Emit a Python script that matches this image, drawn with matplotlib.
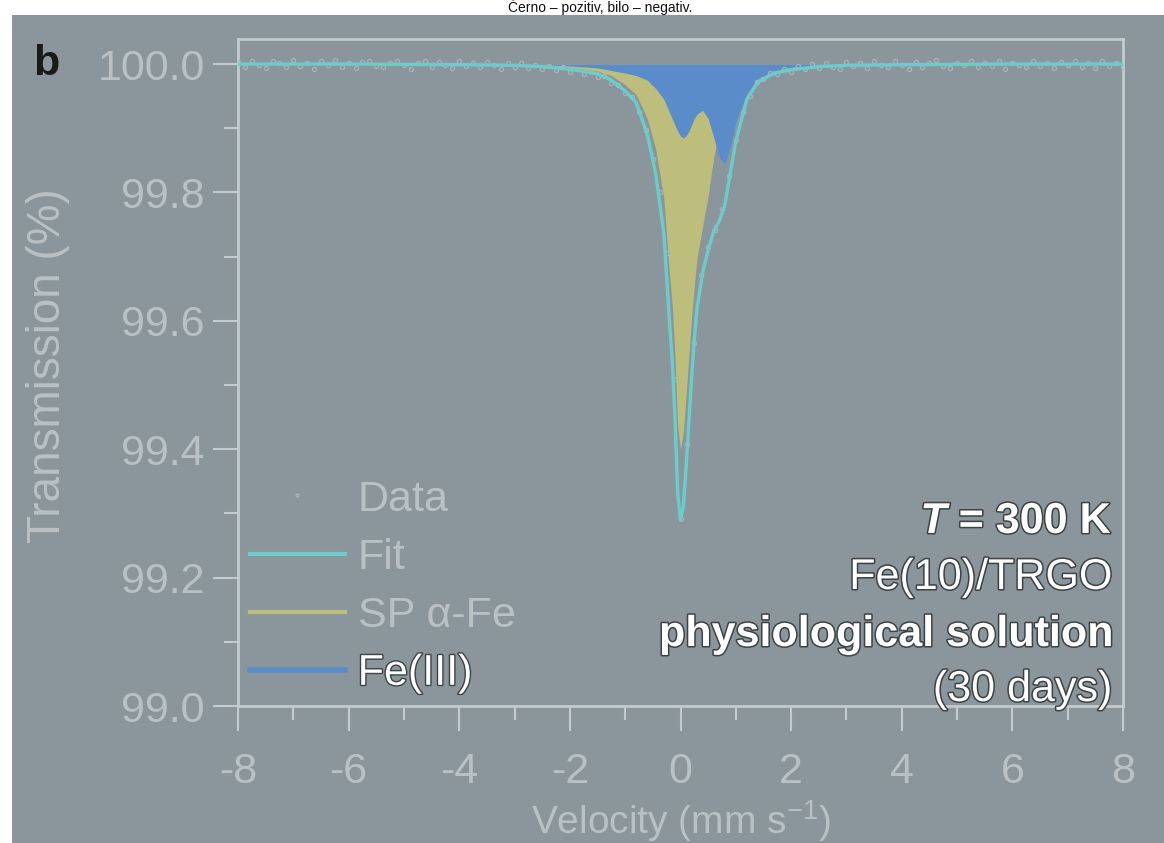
import numpy as np
import matplotlib
matplotlib.use("Agg")
import matplotlib.pyplot as plt
from matplotlib.patches import Rectangle
from matplotlib.lines import Line2D
import matplotlib.patheffects as pe

plt.rcParams['font.family'] = ['Liberation Sans', 'DejaVu Sans']
plt.rcParams['mathtext.fontset'] = 'custom'
plt.rcParams['mathtext.rm'] = 'Liberation Sans'
plt.rcParams['mathtext.it'] = 'Liberation Sans:italic:bold'
plt.rcParams['mathtext.bf'] = 'Liberation Sans:bold'

# ---- measured spectrum: 129 channels from -8 to +8 mm/s ----
velocity = np.linspace(-8.0, 8.0, 129)
transmission = [
    100.003, 99.996, 100.005, 99.998, 99.994, 100.004, 100.001, 99.995,
    100.006, 99.997, 100.002, 99.993, 100.004, 99.999, 100.006, 99.996,
    100.001, 99.994, 100.003, 100.005, 99.997, 99.995, 100.002, 100.004,
    99.998, 99.993, 100.001, 100.005, 99.996, 100.003, 99.999, 99.994,
    100.004, 99.997, 100.002, 99.995, 100.003, 99.998, 99.993, 100.002,
    99.996, 100.001, 99.994, 99.999, 99.992, 99.997, 99.990, 99.995,
    99.988, 99.993, 99.984, 99.988, 99.980, 99.981, 99.970, 99.968,
    99.955, 99.948, 99.925, 99.897, 99.852, 99.800, 99.706, 99.510,
    99.292,
    99.408, 99.565, 99.672, 99.715, 99.742, 99.774, 99.826, 99.881,
    99.925, 99.950, 99.972, 99.976, 99.986, 99.984, 99.993, 99.988,
    99.997, 99.993, 100.000, 99.994, 100.002, 99.996, 99.993, 100.003,
    99.997, 100.001, 99.994, 100.004, 99.998, 99.995, 100.005, 99.999,
    99.993, 100.003, 99.996, 100.001, 100.006, 99.997, 99.994, 100.002,
    99.998, 100.005, 99.995, 100.001, 99.997, 100.004, 99.993, 100.002,
    99.999, 99.995, 100.005, 99.997, 100.002, 99.994, 100.003, 99.998,
    100.005, 99.996, 100.001, 99.994, 100.004, 99.997, 100.002, 99.996,
]
assert len(transmission) == len(velocity)

# ---- fitted model and its two sub-spectra ----
v_model = [-8, -6, -4, -3, -2.5, -2, -1.5, -1.25, -1, -0.8, -0.6, -0.45,
           -0.3, -0.2, -0.15, -0.1, -0.05, 0, 0.05, 0.1, 0.15, 0.2, 0.25,
           0.3, 0.4, 0.5, 0.6, 0.7, 0.8, 0.9, 1.0, 1.2, 1.4, 1.7, 2, 2.5,
           3, 4, 6, 8]
fit_total = [100.0, 100.0, 99.999, 99.998, 99.996, 99.992, 99.985, 99.975,
             99.958, 99.94, 99.89, 99.83, 99.735, 99.60, 99.54, 99.45, 99.33,
             99.29, 99.31, 99.37, 99.44, 99.51, 99.57, 99.62, 99.675, 99.71,
             99.74, 99.755, 99.78, 99.83, 99.88, 99.945, 99.972, 99.986,
             99.991, 99.996, 99.998, 99.999, 100.0, 100.0]
sp_alpha_fe = [100.0, 100.0, 100.0, 99.999, 99.998, 99.995, 99.989, 99.982,
               99.968, 99.952, 99.915, 99.868, 99.79, 99.675, 99.625, 99.545,
               99.435, 99.40, 99.425, 99.482, 99.545, 99.605, 99.655, 99.698,
               99.747, 99.795, 99.854, 99.90, 99.935, 99.96, 99.97, 99.98,
               99.986, 99.991, 99.994, 99.997, 99.998, 99.999, 100.0, 100.0]
fe_iii = [100.0, 100.0, 100.0, 100.0, 99.999, 99.997, 99.994, 99.99,
          99.986, 99.982, 99.975, 99.962, 99.945, 99.925, 99.915, 99.905,
          99.895, 99.888, 99.885, 99.888, 99.895, 99.905, 99.915, 99.922,
          99.928, 99.915, 99.886, 99.855, 99.845, 99.87, 99.91, 99.955,
          99.978, 99.99, 99.995, 99.998, 99.999, 100.0, 100.0, 100.0]

x_ticks = [-8, -6, -4, -2, 0, 2, 4, 6, 8]
y_ticks = [99.0, 99.2, 99.4, 99.6, 99.8, 100.0]

BG = '#8a969b'
LIGHT = '#b9c1c5'
SPINE = '#c3cbcf'
C_FIT = '#6ccccc'
C_SP = '#bdbd7c'
C_FE = '#5a8cca'
C_DATA = '#aab2bf'

W, H = 1164, 843
fig = plt.figure(figsize=(W / 100, H / 100), dpi=100)
fig.patch.set_facecolor('white')
fig.add_artist(Rectangle((12 / W, 0), 1 - 12 / W, 1 - 15 / H,
                         transform=fig.transFigure, facecolor=BG,
                         edgecolor='none', zorder=0))

fig.text(600 / W, 1 - 12 / H, 'Černo – pozitiv, bilo – negativ.',
         ha='center', va='baseline', fontsize=10, color='#111111')
fig.text(33 / W, 1 - 64 / H, 'b', ha='left', va='center', fontsize=31,
         fontweight='bold', color='#1a1a1a')

ax = fig.add_axes([238 / W, 1 - 706 / H, (1123 - 238) / W, (706 - 39) / H])
ax.patch.set_alpha(0)

ax.fill_between(v_model, 100.0, sp_alpha_fe, color=C_SP, lw=0, zorder=1)
ax.fill_between(v_model, 100.0, fe_iii, color=C_FE, lw=0, zorder=2)
ax.plot(velocity, transmission, ls='none', marker='o', ms=3.0,
        mfc='none', mec=C_DATA, mew=0.9, zorder=3)
ax.plot(v_model, fit_total, color=C_FIT, lw=2.4, zorder=4)

ax.set_xlim(-8, 8)
ax.set_ylim(99.0, 100.039)
ax.set_xticks(x_ticks)
ax.set_xticks(np.arange(-7, 8, 2), minor=True)
ax.set_yticks(y_ticks)
ax.set_yticks(np.arange(99.1, 100.0, 0.2), minor=True)
ax.set_xticklabels([str(t) for t in x_ticks])
ax.set_yticklabels([f'{t:.1f}' for t in y_ticks])

for s in ax.spines.values():
    s.set_color(SPINE)
    s.set_linewidth(2)
ax.tick_params(which='major', direction='out', length=18, width=1.5,
               color=SPINE, labelcolor=LIGHT, labelsize=31)
ax.tick_params(which='minor', direction='out', length=10, width=1.5,
               color=SPINE)
ax.tick_params(axis='x', which='major', pad=15)
ax.tick_params(axis='y', which='major', pad=6)

ax.set_xlabel('Velocity (mm s$^{-1}$)', fontsize=28, color=LIGHT)
ax.xaxis.set_label_coords(0.5, -0.138)
ax.set_ylabel('Transmission (%)', fontsize=33, color=LIGHT)
ax.yaxis.set_label_coords(-0.19, 0.51)

handles = [
    Line2D([], [], ls='none', marker='o', ms=2, mfc='none', mec=C_DATA),
    Line2D([], [], color=C_FIT, lw=3),
    Line2D([], [], color=C_SP, lw=3),
    Line2D([], [], color=C_FE, lw=4),
]
labels = ['Data', 'Fit', 'SP α-Fe', 'Fe(III)']
leg = ax.legend(handles, labels, loc='upper left',
                bbox_to_anchor=(0.0136, 0.3395), frameon=False,
                fontsize=31, handlelength=2.2, handletextpad=0.3,
                labelspacing=0.42, borderpad=0, borderaxespad=0)
for t in leg.get_texts():
    t.set_color(LIGHT)
leg.get_texts()[3].set_color('white')
leg.get_texts()[3].set_path_effects(
    [pe.withStroke(linewidth=2, foreground='#3c4246')])

outline = [pe.withStroke(linewidth=2.2, foreground='#3c4246')]
ann = [(r'$T$ = 300 K', 'bold', 522),
       ('Fe(10)/TRGO', 'normal', 578),
       ('physiological solution', 'bold', 635),
       ('(30 days)', 'normal', 690)]
for txt, wt, yp in ann:
    fig.text(1112 / W, 1 - yp / H, txt, ha='right', va='center',
             fontsize=31, fontweight=wt, color='white', path_effects=outline)

fig.savefig('out.png', dpi=100, facecolor=fig.get_facecolor())
